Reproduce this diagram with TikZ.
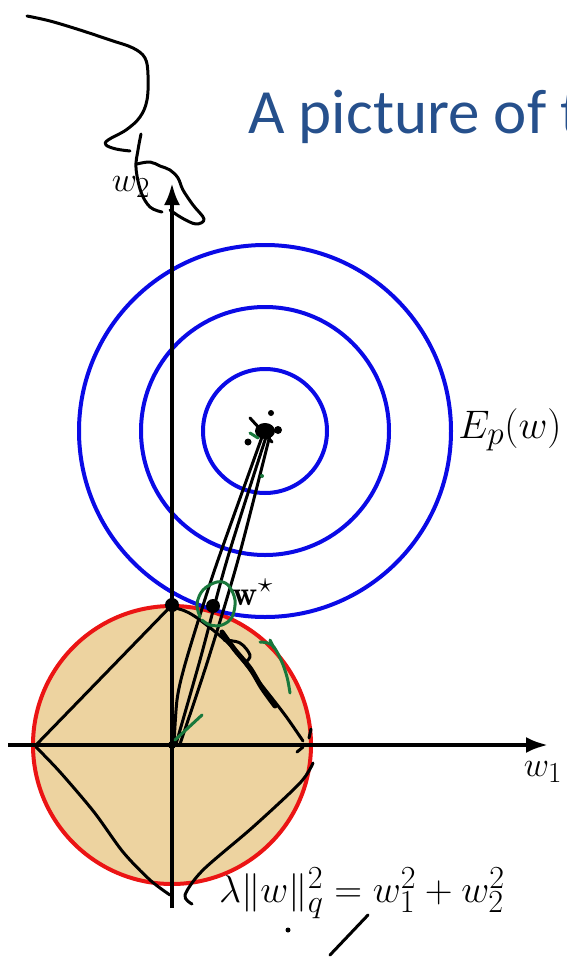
\documentclass[tikz,border=0pt]{standalone}
\usepackage{fontspec}
\newfontfamily\titlefont{Carlito}
\usetikzlibrary{arrows.meta}
\definecolor{titleblue}{RGB}{38,80,140}
\definecolor{tanfill}{RGB}{237,211,160}
\definecolor{ringblue}{RGB}{10,10,230}
\definecolor{ringred}{RGB}{235,20,20}
\definecolor{greenpen}{RGB}{25,120,60}
\begin{document}
\begin{tikzpicture}[x=1pt,y=-1pt,
  ink/.style={line width=3pt,line cap=round,line join=round},
  gink/.style={ink,draw=greenpen},
  axisline/.style={line width=4pt,-{Latex[length=22pt,width=16pt]}},
  bluering/.style={draw=ringblue,line width=4pt},
  lab/.style={inner sep=0pt,font=\Huge,scale=1.4},
  hand/.style={inner sep=0pt,font=\Huge}]
\useasboundingbox (0,0) rectangle (567,963);
\clip (0,0) rectangle (567,963);
% key points
\coordinate (O) at (172,745);
\coordinate (C) at (265,431);
\coordinate (xl) at (8,745);
\coordinate (xr) at (548,745);
\coordinate (yb) at (172,908);
\coordinate (yt) at (172,183);
% title
\node[anchor=base west,inner sep=0pt,text=titleblue,font=\titlefont\fontsize{63}{70}\selectfont] (title) at (248,133) {A picture of t};
% L2 ball
\fill[tanfill] (O) circle (139pt);
\draw[ringred,line width=4pt] (O) circle (139pt);
% contours
\draw[bluering] (C) circle (186pt);
\draw[bluering] (C) circle (124pt);
\draw[bluering] (C) circle (62pt);
% axes
\draw[axisline] (xl) -- (xr);
\draw[axisline] (yb) -- (yt);
\node[lab] (w1) at (543,772) {$w_1$};
\node[lab] (w2) at (131,187) {$w_2$};
\node[lab] (wstar) at (253,592) {$\mathbf{w}^{\star}$};
% handwritten: scribble at top
\draw[ink] plot[smooth,tension=0.6] coordinates {(27,16) (50,21) (80,30) (110,40) (133,48) (145,58) (148,75) (147,100) (140,117) (126,130) (108,140) (106,145) (116,149) (130,151)};
\draw[ink] plot[smooth,tension=0.6] coordinates {(141,134) (138,150) (136,168) (141,192) (150,207) (162,212)};
\draw[ink] plot[smooth,tension=0.6] coordinates {(137,164) (150,162) (160,166) (170,170) (178,178) (183,190) (193,205) (204,219) (196,224) (182,218) (170,210)};
% diamond (L1 ball)
\draw[ink] (36,745) -- (172,605);
\draw[ink] plot[smooth,tension=0.5] coordinates {(168,606) (185,611) (200,620) (230,645) (260,683) (285,715) (303,741)};
\draw[ink] plot[smooth,tension=0.5] coordinates {(313,763) (300,783) (253,827) (203,870) (185,895) (192,904)};
\draw[ink] plot[smooth,tension=0.5] coordinates {(36,747) (60,772) (94,812) (123,852) (150,880) (170,895)};
% lines from origin to centre
\draw[ink] plot[smooth,tension=0.5] coordinates {(174,744) (177,700) (184,668) (200,615) (218,560) (262,437)};
\draw[ink] plot[smooth,tension=0.5] coordinates {(176,744) (200,660) (227,560) (266,437)};
\draw[ink] plot[smooth,tension=0.5] coordinates {(180,744) (208,660) (238,560) (270,435)};
% scribble along diamond edge
\draw[ink,line width=5pt] plot[smooth,tension=0.5] coordinates {(222,632) (235,650) (250,668) (262,688) (275,706)};
\draw[ink] plot[smooth,tension=0.6] coordinates {(224,640) (240,643) (250,655) (246,662)};
% blobs
\fill (C) ellipse (10pt and 8pt);
\draw[ink] (250,418) -- (272,442);
\fill (248,442) circle (3.5pt);
\fill (271,413) circle (3pt);
\fill (278,430) circle (4pt);
\fill (172,605) circle (7pt);
\fill (213,606) circle (7pt);
\fill (O) circle (4pt);
% ticks near right vertex
\draw[ink] (311,729) -- (309,738);
\draw[ink] (297,752) -- (303,747);
% green annotations
\draw[gink] plot[smooth,tension=0.6] coordinates {(200,617) (197,604) (203,590) (217,582) (228,585) (235,600) (232,617) (222,625) (210,625) (202,620)};
\draw[gink] plot[smooth,tension=0.6] coordinates {(260,642) (272,645) (281,660) (287,677) (290,693)};
\draw[gink] (270,640) -- (274,648);
\draw[gink] (202,715) -- (175,740);
\draw[gink] (250,433) -- (258,438);
\fill[greenpen] (262,476) circle (2pt);
% handwritten texts
\node[hand,scale=1.6] (Ep) at (510,430) {$E_p(w)$};
\node[hand,scale=1.55] (reg) at (362,893) {$\lambda\|w\|_q^2 = w_1^2 + w_2^2$};
\draw[ink] (330,955) -- (368,915);
\fill (288,930) circle (2.5pt);
\end{tikzpicture}
\end{document}
